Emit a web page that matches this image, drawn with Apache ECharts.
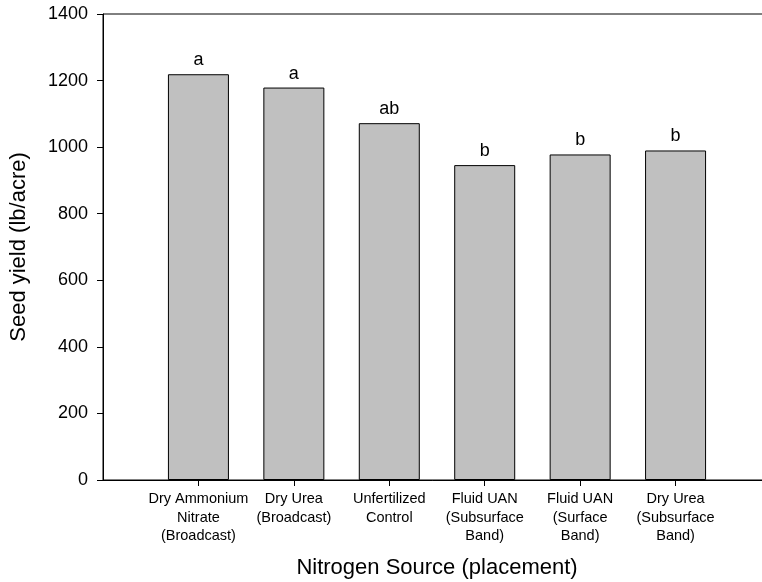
<!DOCTYPE html>
<html>
<head>
<meta charset="utf-8">
<script src="https://cdn.jsdelivr.net/npm/echarts@6/dist/echarts.min.js"></script>
<style>
  html, body { margin: 0; padding: 0; background: #fff; }
  #chart { width: 762px; height: 582px; }
</style>
</head>
<body>
<div id="chart"></div>
<script>
// nitrogen source treatments
const categories = [
  'Dry Ammonium\nNitrate\n(Broadcast)',
  'Dry Urea\n(Broadcast)',
  'Unfertilized\nControl',
  'Fluid UAN\n(Subsurface\nBand)',
  'Fluid UAN\n(Surface\nBand)',
  'Dry Urea\n(Subsurface\nBand)'
]
const yields = [1219, 1179, 1072, 946, 978, 990]
const letters = ['a', 'a', 'ab', 'b', 'b', 'b']
const yTicks = [0, 200, 400, 600, 800, 1000, 1200, 1400]

const positions = categories.map((c, i) => i + 1)
const font = 'Liberation Sans, Arial, sans-serif'

var myChart = echarts.init(document.getElementById('chart'))

let option = {
  animation: false,
  grid: {
    left: 103,
    right: -9,
    top: 14,
    bottom: 102,
    outerBoundsMode: 'none',
    containLabel: false,
    show: true,
    borderColor: '#000',
    borderWidth: 1,
  },
  xAxis: {
    type: 'value',
    min: 0,
    max: 7,
    name: 'Nitrogen Source (placement)',
    nameLocation: 'middle',
    nameGap: 77,
    nameTextStyle: { fontFamily: font, fontSize: 22, color: '#000' },
    axisLine: { lineStyle: { color: '#000', width: 1 } },
    axisTick: {
      customValues: positions,
      length: 6,
      lineStyle: { color: '#000' },
    },
    axisLabel: {
      customValues: positions,
      formatter: (v) => categories[Math.round(v) - 1] || '',
      fontFamily: font,
      fontSize: 14.5,
      lineHeight: 18.5,
      color: '#000',
      margin: 10,
      align: 'center',
    },
    splitLine: { show: false },
  },
  yAxis: {
    type: 'value',
    min: yTicks[0],
    max: yTicks[yTicks.length - 1],
    interval: 200,
    name: 'Seed yield (lb/acre)',
    nameLocation: 'middle',
    nameGap: 73,
    nameTextStyle: { fontFamily: font, fontSize: 22, color: '#000' },
    axisLine: { show: true, lineStyle: { color: '#000', width: 1 } },
    axisTick: { show: true, length: 6, lineStyle: { color: '#000' } },
    axisLabel: {
      formatter: (v) => String(v),
      fontFamily: font,
      fontSize: 18,
      color: '#000',
      margin: 15,
    },
    splitLine: { show: false },
  },
  series: [
    {
      type: 'bar',
      barWidth: 61,
      data: yields.map((v, i) => [positions[i], v]),
      itemStyle: { color: '#c0c0c0', borderColor: '#000', borderWidth: 1 },
      label: {
        show: true,
        position: 'top',
        distance: 5,
        formatter: (p) => letters[p.dataIndex],
        fontFamily: font,
        fontSize: 18,
        color: '#000',
      },
    },
  ],
}
myChart.setOption(option)
</script>
</body>
</html>
